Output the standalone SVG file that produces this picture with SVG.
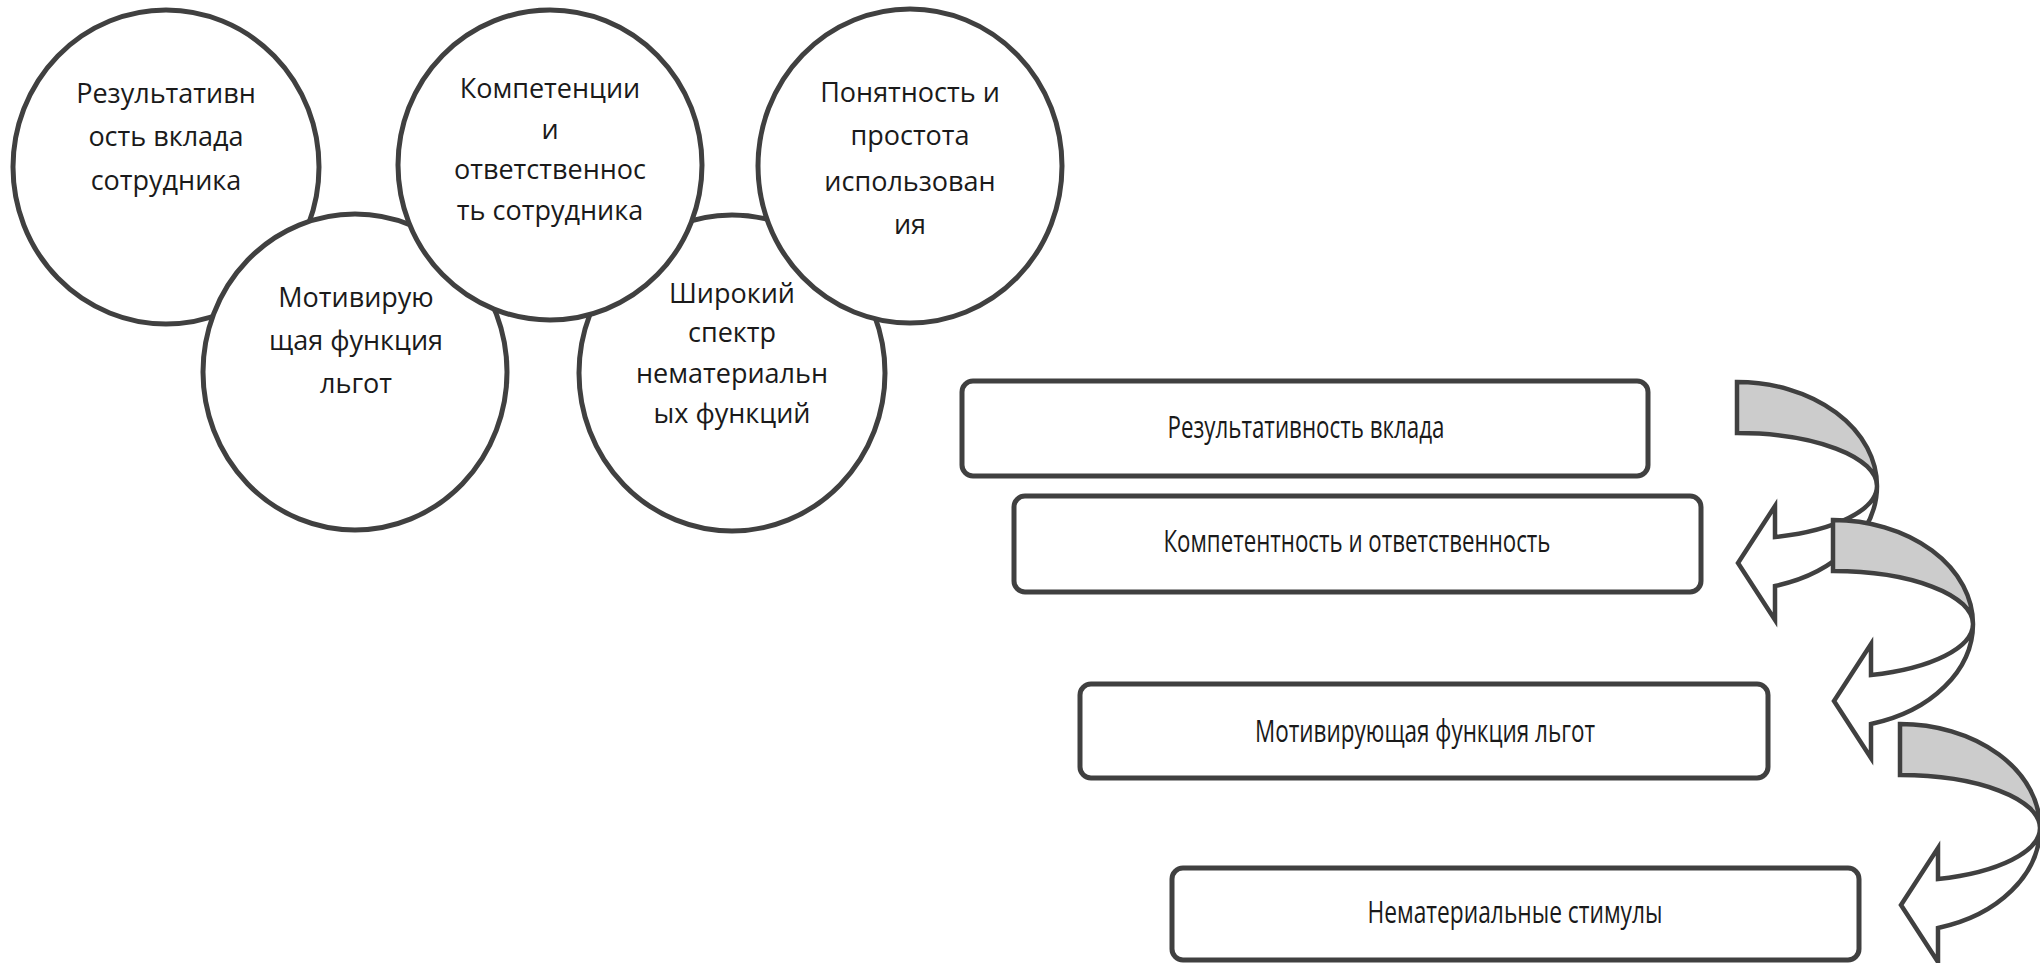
<svg xmlns="http://www.w3.org/2000/svg" xmlns:xlink="http://www.w3.org/1999/xlink" width="2040" height="963" viewBox="0 0 2040 963">
  <style>
    .circ { fill: #ffffff; stroke: #404040; stroke-width: 5; }
    .ctext { font-family: "Open Sans", "Noto Sans", "DejaVu Sans", sans-serif; font-size: 27px; fill: #1a1a1a; text-anchor: middle; }
    .box { fill: #ffffff; stroke: #404040; stroke-width: 5; }
    .btext { font-family: "Open Sans", "Noto Sans", "DejaVu Sans", sans-serif; font-size: 31px; fill: #1a1a1a; text-anchor: middle; }
    .back { fill: #cccccc; stroke: #404040; stroke-width: 4.5; stroke-linejoin: miter; }
    .front { fill: #ffffff; stroke: #404040; stroke-width: 4.5; stroke-linejoin: miter; }
  </style>
  <defs>
    <g id="curvedArrow">
      <path class="back" d="M 1737 382 A 140 104 0 0 1 1877 486 A 140 53 0 0 0 1737 433 Z"/>
      <path class="front" d="M 1877 486 A 140 53 0 0 1 1775 537 L 1775 506 L 1738 563 L 1775 620 L 1775 586 A 140 104 0 0 0 1877 486 Z"/>
    </g>
  </defs>
  <rect x="0" y="0" width="2040" height="963" fill="#ffffff"/>

  <g id="circle-results">
    <ellipse class="circ" cx="166" cy="167" rx="153" ry="157"/>
    <text class="ctext" x="166" y="103">Результативн</text>
    <text class="ctext" x="166" y="146">ость вклада</text>
    <text class="ctext" x="166" y="190">сотрудника</text>
  </g>
  <g id="circle-motivating">
    <ellipse class="circ" cx="355" cy="372" rx="152" ry="158"/>
    <text class="ctext" x="356" y="307">Мотивирую</text>
    <text class="ctext" x="356" y="350">щая функция</text>
    <text class="ctext" x="356" y="393">льгот</text>
  </g>
  <g id="circle-wide">
    <ellipse class="circ" cx="732" cy="373" rx="153" ry="158"/>
    <text class="ctext" x="732" y="303">Широкий</text>
    <text class="ctext" x="732" y="342">спектр</text>
    <text class="ctext" x="732" y="383">нематериальн</text>
    <text class="ctext" x="732" y="423">ых функций</text>
  </g>
  <g id="circle-competence">
    <ellipse class="circ" cx="550" cy="165" rx="152" ry="155"/>
    <text class="ctext" x="550" y="98">Компетенции</text>
    <text class="ctext" x="550" y="139">и</text>
    <text class="ctext" x="550" y="179">ответственнос</text>
    <text class="ctext" x="550" y="220">ть сотрудника</text>
  </g>
  <g id="circle-clarity">
    <ellipse class="circ" cx="910" cy="166" rx="152" ry="157"/>
    <text class="ctext" x="910" y="102">Понятность и</text>
    <text class="ctext" x="910" y="145">простота</text>
    <text class="ctext" x="910" y="191">использован</text>
    <text class="ctext" x="910" y="234">ия</text>
  </g>

  <g id="box-results">
    <rect class="box" x="962" y="381" width="686" height="95" rx="11"/>
    <text class="btext" x="1306" y="438" textLength="277" lengthAdjust="spacingAndGlyphs">Результативность вклада</text>
  </g>
  <g id="box-competence">
    <rect class="box" x="1014" y="496" width="687" height="96" rx="11"/>
    <text class="btext" x="1357" y="552" textLength="387" lengthAdjust="spacingAndGlyphs">Компетентность и ответственность</text>
  </g>
  <g id="box-motivating">
    <rect class="box" x="1080" y="684" width="688" height="94" rx="11"/>
    <text class="btext" x="1425" y="742" textLength="340" lengthAdjust="spacingAndGlyphs">Мотивирующая функция льгот</text>
  </g>
  <g id="box-nonmaterial">
    <rect class="box" x="1172" y="868" width="687" height="92" rx="11"/>
    <text class="btext" x="1515" y="923" textLength="295" lengthAdjust="spacingAndGlyphs">Нематериальные стимулы</text>
  </g>

  <g id="connectors">
    <use xlink:href="#curvedArrow" href="#curvedArrow"/>
    <use xlink:href="#curvedArrow" href="#curvedArrow" transform="translate(96,138)"/>
    <use xlink:href="#curvedArrow" href="#curvedArrow" transform="translate(163,342)"/>
  </g>
</svg>
